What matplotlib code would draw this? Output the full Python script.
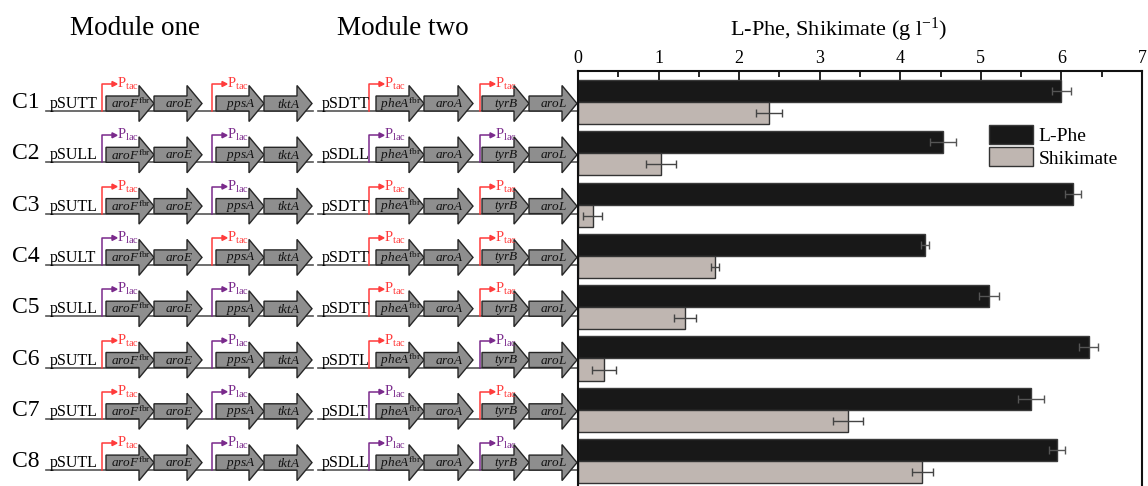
import matplotlib
matplotlib.use("Agg")
import matplotlib.pyplot as plt
from matplotlib.patches import Polygon
import numpy as np

plt.rcParams['font.family'] = ['Liberation Serif', 'DejaVu Serif']
plt.rcParams['mathtext.fontset'] = 'custom'
plt.rcParams['mathtext.rm'] = 'Liberation Serif'
plt.rcParams['mathtext.it'] = 'Liberation Serif:italic'

# data
constructs = ['C1', 'C2', 'C3', 'C4', 'C5', 'C6', 'C7', 'C8']
module_one = ['pSUTT', 'pSULL', 'pSUTL', 'pSULT', 'pSULL', 'pSUTL', 'pSUTL', 'pSUTL']
module_two = ['pSDTT', 'pSDLL', 'pSDTT', 'pSDTT', 'pSDTT', 'pSDTL', 'pSDLT', 'pSDLL']
genes_one = [r'$aroF^{\rm fbr}$', r'$aroE$', r'$ppsA$', r'$tktA$']
genes_two = [r'$pheA^{\rm fbr}$', r'$aroA$', r'$tyrB$', r'$aroL$']
lphe = [6.00, 4.53, 6.14, 4.31, 5.10, 6.34, 5.62, 5.95]
lphe_err = [0.12, 0.16, 0.10, 0.05, 0.12, 0.12, 0.16, 0.10]
shik = [2.37, 1.03, 0.18, 1.70, 1.33, 0.32, 3.35, 4.27]
shik_err = [0.16, 0.19, 0.12, 0.05, 0.14, 0.15, 0.19, 0.13]

W, H = 1148, 486
fig = plt.figure(figsize=(W / 100, H / 100), dpi=100)

# left part drawn in pixel coordinates
bg = fig.add_axes([0, 0, 1, 1])
bg.set_xlim(0, W)
bg.set_ylim(H, 0)
bg.axis('off')

promo_style = {'T': ('#ff3b3b', r'P$_{\rm tac}$'), 'L': ('#7a2a8c', r'P$_{\rm lac}$')}

def draw_gene(x0, x1, b, label):
    c = b - 7.5
    hx = x1 - 15
    pts = [(x0, b), (x0, b - 15), (hx, b - 15), (hx, c - 18), (x1, c),
           (hx, c + 18), (hx, b)]
    bg.add_patch(Polygon(pts, closed=True, facecolor='#8e8e8e',
                         edgecolor='#262626', lw=1.0, zorder=3))
    bg.text((x0 + x1) / 2 + 1, c + 0.5, label, ha='center', va='center',
            fontsize=9.5, color='#111111', zorder=4)

def draw_promoter(x, b, kind):
    col, lab = promo_style[kind]
    top = b - 27
    bg.plot([x, x, x + 11], [b, top, top], color=col, lw=1.1, zorder=2)
    bg.add_patch(Polygon([(x + 10, top - 2.5), (x + 15, top), (x + 10, top + 2.5)],
                         closed=True, color=col, zorder=2))
    bg.text(x + 15, b - 23, lab, color=col, fontsize=10.5, ha='left',
            va='baseline', zorder=5)

pitch = 51.3
for i, name in enumerate(constructs):
    b = 111 + i * pitch
    bg.text(12, b - 3, name, fontsize=17, ha='left', va='baseline')
    # module one
    bg.plot([46, 313], [b, b], color='#555555', lw=1.2, zorder=1)
    bg.text(50, b - 3, module_one[i], fontsize=11.5, ha='left', va='baseline')
    draw_promoter(102, b, module_one[i][3])
    draw_promoter(212, b, module_one[i][4])
    for (x0, x1), g in zip([(106, 154), (154, 202), (216, 264), (264, 312)], genes_one):
        draw_gene(x0, x1, b, g)
    # module two
    bg.plot([318, 577], [b, b], color='#555555', lw=1.2, zorder=1)
    bg.text(322, b - 3, module_two[i], fontsize=11.5, ha='left', va='baseline')
    draw_promoter(369, b, module_two[i][3])
    draw_promoter(480, b, module_two[i][4])
    for (x0, x1), g in zip([(376, 424), (424, 473), (482, 529), (529, 577)], genes_two):
        draw_gene(x0, x1, b, g)

bg.text(70, 35, 'Module one', fontsize=19.5, ha='left', va='baseline')
bg.text(337, 35, 'Module two', fontsize=19.5, ha='left', va='baseline')
bg.text(839, 36, r'L-Phe, Shikimate (g l$^{-1}$)', fontsize=16,
        ha='center', va='baseline')

# bar chart
left, right = 578 / W, 1142 / W
top_px, bot_px = 70.7, 102 + 7.6 * pitch
ax = fig.add_axes([left, 1 - bot_px / H, right - left, (bot_px - top_px) / H])
ypos = np.arange(len(constructs))
h = 0.43
ax.barh(ypos - h / 2, lphe, height=h, color='#181818', edgecolor='#3a3a3a',
        lw=1.0, label='L-Phe', zorder=2)
ax.barh(ypos + h / 2, shik, height=h, color='#bfb6b1', edgecolor='#333333',
        lw=1.0, label='Shikimate', zorder=2)
ax.errorbar(lphe, ypos - h / 2, xerr=lphe_err, fmt='none', ecolor='#555555',
            elinewidth=1.0, capsize=3.2, capthick=1.0, zorder=3)
ax.errorbar(shik, ypos + h / 2, xerr=shik_err, fmt='none', ecolor='#444444',
            elinewidth=1.0, capsize=3.2, capthick=1.0, zorder=3)
ax.set_xlim(0, 7)
ax.set_ylim(7.6, -0.61)
ax.set_yticks([])
ax.xaxis.tick_top()
ax.set_xticks(range(8))
ax.set_xticks(np.arange(0.5, 7, 1), minor=True)
ax.tick_params(axis='x', which='major', direction='in', length=6.5, width=1.2,
               labelsize=13, pad=3, top=True, bottom=False)
ax.tick_params(axis='x', which='minor', direction='in', length=4, width=1.2,
               top=True, bottom=False)
for s in ax.spines.values():
    s.set_linewidth(1.5)
    s.set_color('#111111')
ax.patch.set_alpha(0)

fs = 14
leg = ax.legend(loc='upper left', bbox_to_anchor=(989 / W, 1 - 125 / H),
                bbox_transform=fig.transFigure, frameon=False, fontsize=fs,
                borderpad=0, borderaxespad=0, handlelength=2.26,
                handleheight=1.13, handletextpad=0.3, labelspacing=0.12)

fig.savefig('out.png', dpi=100)
